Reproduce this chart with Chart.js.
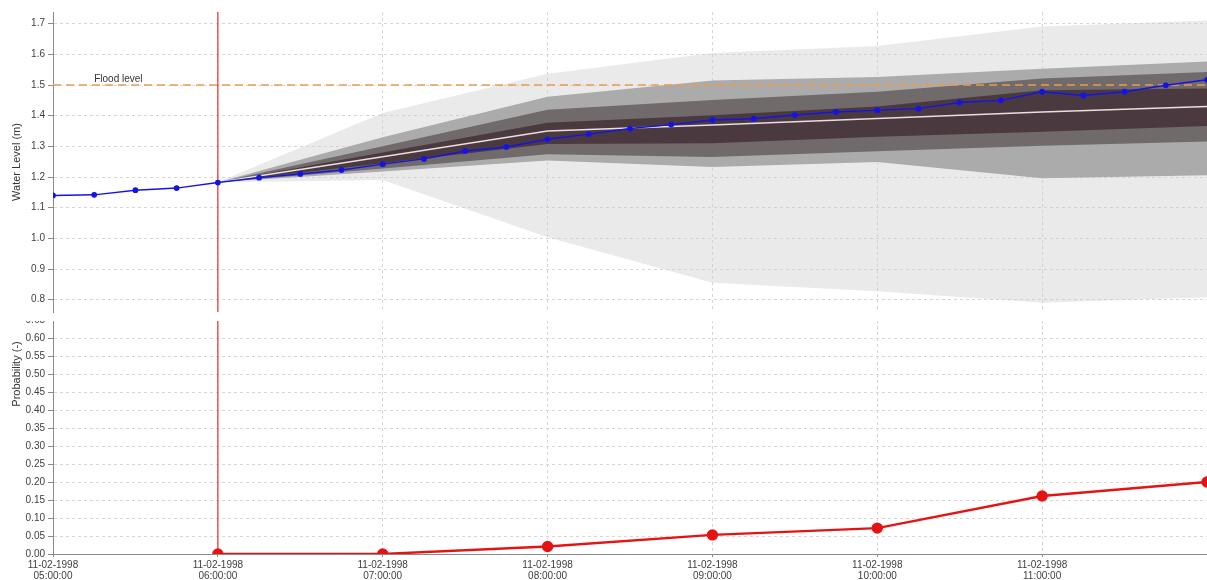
<!DOCTYPE html>
<html>
<head>
<meta charset="utf-8">
<script src="https://cdn.jsdelivr.net/npm/chart.js@4.4.1/dist/chart.umd.min.js"></script>
<style>
  html, body { margin: 0; padding: 0; background: #ffffff; }
  #wrap { position: relative; width: 1207px; height: 580px; overflow: hidden; }
  #probCanvas { position: absolute; left: 0; top: 0; }
  #levelCanvas { position: absolute; left: 0; top: 0; background: #ffffff; z-index: 2; }
</style>
</head>
<body>
<div id="wrap">
  <canvas id="probCanvas" width="1207" height="580"></canvas>
  <canvas id="levelCanvas" width="1207" height="321"></canvas>
</div>
<script>
// ---------------- DATA ----------------
const dateText = '11-02-1998';
const tickHours = [5, 6, 7, 8, 9, 10, 11];
const tickTimeLabels = ['05:00:00', '06:00:00', '07:00:00', '08:00:00', '09:00:00', '10:00:00', '11:00:00'];

const levelTicks = [0.8, 0.9, 1.0, 1.1, 1.2, 1.3, 1.4, 1.5, 1.6, 1.7];
const probTicks = [0.00, 0.05, 0.10, 0.15, 0.20, 0.25, 0.30, 0.35, 0.40, 0.45, 0.50, 0.55, 0.60, 0.65, 0.70, 0.75, 0.80, 0.85, 0.90, 0.95, 1.00];

const observedTimes = ['05:00','05:15','05:30','05:45','06:00','06:15','06:30','06:45','07:00','07:15','07:30','07:45',
  '08:00','08:15','08:30','08:45','09:00','09:15','09:30','09:45','10:00','10:15','10:30','10:45',
  '11:00','11:15','11:30','11:45','12:00'];
const observedLevel = [1.140, 1.142, 1.157, 1.164, 1.182, 1.198, 1.210, 1.223, 1.242, 1.259, 1.285, 1.298,
  1.323, 1.340, 1.358, 1.371, 1.386, 1.390, 1.402, 1.412, 1.418, 1.423, 1.443, 1.450,
  1.478, 1.466, 1.478, 1.499, 1.517];

const forecastTimes = ['06:00','07:00','08:00','09:00','10:00','11:00','12:00'];
const bandOuterUpper  = [1.183, 1.409, 1.537, 1.604, 1.627, 1.691, 1.710];
const bandOuterLower  = [1.183, 1.190, 1.004, 0.855, 0.828, 0.790, 0.808];
const bandWideUpper   = [1.183, 1.330, 1.462, 1.515, 1.526, 1.553, 1.577];
const bandWideLower   = [1.183, 1.218, 1.254, 1.233, 1.249, 1.196, 1.206];
const bandMidUpper    = [1.183, 1.300, 1.419, 1.451, 1.478, 1.521, 1.542];
const bandMidLower    = [1.183, 1.228, 1.274, 1.265, 1.284, 1.302, 1.316];
const bandInnerUpper  = [1.183, 1.280, 1.377, 1.401, 1.430, 1.483, 1.489];
const bandInnerLower  = [1.183, 1.245, 1.308, 1.310, 1.331, 1.348, 1.366];
const forecastMedian  = [1.183, 1.266, 1.350, 1.370, 1.391, 1.412, 1.430];

const probTimes = ['06:00','07:00','08:00','09:00','10:00','11:00','12:00'];
const probValues = [0.000, 0.000, 0.021, 0.053, 0.072, 0.161, 0.200];

const floodLevel = 1.5;
const floodText = 'Flood level';
const floodTextTime = '05:15';
const forecastStart = '06:00';
const xStart = '05:00', xEnd = '12:00';
const levelMin = 0.76, levelMax = 1.738;
const probMin = 0, probMax = 1.0;

// ---------------- HELPERS ----------------
function toHours(s) { const p = s.split(':').map(Number); return p[0] + p[1] / 60; }
function pts(times, vals) { return times.map((t, i) => ({ x: toHours(t), y: vals[i] })); }

const FONT = "'Liberation Sans', Arial, sans-serif";
Chart.defaults.font.family = FONT;
Chart.defaults.font.size = 10;
Chart.defaults.color = '#404040';

const gridColor = '#d6d6d6';
const axisColor = '#8a8a8a';

function xScale(showLabels) {
  return {
    type: 'linear',
    min: toHours(xStart), max: toHours(xEnd),
    afterBuildTicks: (s) => { s.ticks = tickHours.map(v => ({ value: v })); },
    afterFit: (s) => { s.height = showLabels ? 26 : 0; },
    grid: { display: true, color: gridColor, lineWidth: 1, drawTicks: showLabels, tickLength: 3, tickColor: axisColor, tickBorderDash: [] },
    border: { display: showLabels, color: axisColor, width: 1, dash: [3, 3] },
    ticks: {
      display: showLabels, maxRotation: 0, autoSkip: false, padding: 3,
      font: { size: 10, lineHeight: 1.1 }, color: '#404040',
      callback: (v) => { const i = tickHours.indexOf(v); return i < 0 ? '' : [dateText, tickTimeLabels[i]]; }
    }
  };
}

// ---------------- LEVEL (top) CHART ----------------
const floodLabelPlugin = {
  id: 'floodLabel',
  afterDatasetsDraw(chart) {
    const { ctx, scales } = chart;
    ctx.save();
    ctx.font = '10px ' + FONT;
    ctx.fillStyle = '#333333';
    ctx.textAlign = 'left';
    ctx.textBaseline = 'bottom';
    ctx.fillText(floodText, scales.x.getPixelForValue(toHours(floodTextTime)), scales.y.getPixelForValue(floodLevel) - 1);
    ctx.restore();
  }
};

function band(vals, color, fillTarget) {
  return {
    data: pts(forecastTimes, vals), borderWidth: 0, pointRadius: 0, borderColor: 'rgba(0,0,0,0)',
    backgroundColor: color, fill: fillTarget === undefined ? false : fillTarget, tension: 0
  };
}

new Chart(document.getElementById('levelCanvas'), {
  type: 'line',
  data: {
    datasets: [
      { // 0 observed
        data: pts(observedTimes, observedLevel), borderColor: '#1414e6', backgroundColor: '#1414e6',
        borderWidth: 1.4, pointRadius: 2.2, pointHoverRadius: 2.2, fill: false, tension: 0
      },
      { // 1 flood level
        data: pts([xStart, xEnd], [floodLevel, floodLevel]), borderColor: '#ec9a4c', borderWidth: 1.5,
        borderDash: [8, 5], pointRadius: 0, fill: false
      },
      { // 2 forecast start
        data: [{ x: toHours(forecastStart), y: levelMin }, { x: toHours(forecastStart), y: levelMax }],
        borderColor: '#e82c2c', borderWidth: 1.2, pointRadius: 0, fill: false
      },
      { // 3 median
        data: pts(forecastTimes, forecastMedian), borderColor: '#eadede', borderWidth: 1.5, pointRadius: 0, fill: false
      },
      band(bandInnerUpper, '#4b3940', 5),   // 4
      band(bandInnerLower, '#4b3940'),      // 5
      band(bandMidUpper, '#716a6a', 7),     // 6
      band(bandMidLower, '#716a6a'),        // 7
      band(bandWideUpper, '#ababab', 9),    // 8
      band(bandWideLower, '#ababab'),       // 9
      band(bandOuterUpper, 'rgba(205,205,205,0.42)', 11), // 10
      band(bandOuterLower, 'rgba(205,205,205,0.42)')      // 11
    ]
  },
  options: {
    responsive: false, animation: false, devicePixelRatio: 1,
    layout: { autoPadding: false, padding: { top: 12, bottom: 3, left: 0, right: 0 } },
    plugins: { legend: { display: false }, tooltip: { enabled: false } },
    scales: {
      x: xScale(false),
      y: {
        type: 'linear', min: levelMin, max: levelMax,
        afterBuildTicks: (s) => { s.ticks = levelTicks.map(v => ({ value: v })); },
        afterFit: (s) => { s.width = 53; },
        grid: { color: gridColor, lineWidth: 1, drawTicks: true, tickLength: 5, tickColor: axisColor, tickBorderDash: [] },
        border: { display: true, color: axisColor, width: 1, dash: [3, 3] },
        ticks: { padding: 3, color: '#404040', font: { size: 10 }, callback: (v) => Number(v).toFixed(1) },
        title: { display: true, text: 'Water Level (m)', color: '#333333', font: { size: 11 }, padding: { top: 10, bottom: 0 } }
      }
    }
  },
  plugins: [floodLabelPlugin]
});

// ---------------- PROBABILITY (bottom) CHART ----------------
new Chart(document.getElementById('probCanvas'), {
  type: 'line',
  data: {
    datasets: [
      {
        data: pts(probTimes, probValues), borderColor: '#e41414', backgroundColor: '#e41414',
        borderWidth: 2.4, pointRadius: 4.5, pointHoverRadius: 4.5, fill: false, tension: 0
      },
      {
        data: [{ x: toHours(forecastStart), y: probMin }, { x: toHours(forecastStart), y: probMax }],
        borderColor: '#e82c2c', borderWidth: 1.2, pointRadius: 0, fill: false
      }
    ]
  },
  options: {
    responsive: false, animation: false, devicePixelRatio: 1,
    layout: { autoPadding: false, padding: { top: 194, bottom: 0, left: 0, right: 0 } },
    plugins: { legend: { display: false }, tooltip: { enabled: false } },
    scales: {
      x: xScale(true),
      y: {
        type: 'linear', min: probMin, max: probMax,
        afterBuildTicks: (s) => { s.ticks = probTicks.map(v => ({ value: v })); },
        afterFit: (s) => { s.width = 53; },
        grid: { color: gridColor, lineWidth: 1, drawTicks: true, tickLength: 5, tickColor: axisColor, tickBorderDash: [] },
        border: { display: true, color: axisColor, width: 1, dash: [3, 3] },
        ticks: { padding: 3, color: '#404040', font: { size: 10 }, callback: (v) => Number(v).toFixed(2) },
        title: { display: true, text: 'Probability (-)', color: '#333333', font: { size: 11 }, padding: { top: 10, bottom: 0 } }
      }
    }
  }
});
</script>
</body>
</html>
